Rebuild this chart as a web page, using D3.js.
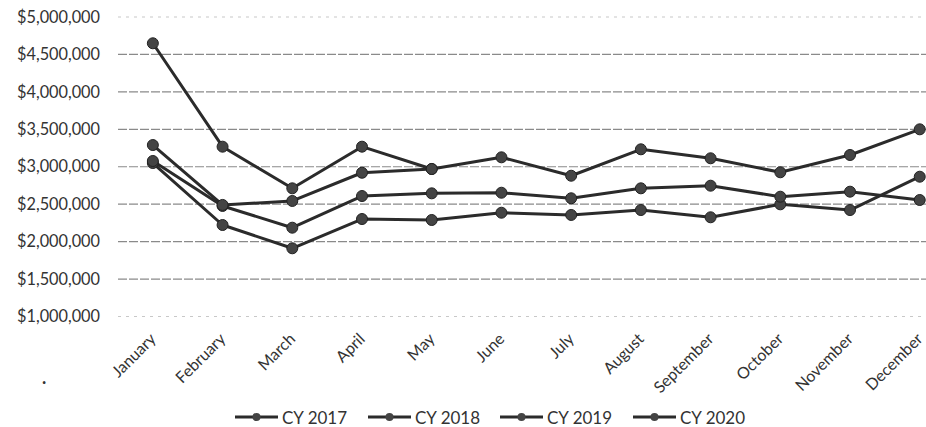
<!DOCTYPE html>
<html>
<head>
<meta charset="utf-8">
<script src="https://cdn.jsdelivr.net/npm/d3@7"></script>
<style>
  html, body { margin: 0; padding: 0; background: #fff; }
  svg { display: block; }
  text { font-family: Lato, "Open Sans", sans-serif; fill: #333; }
</style>
</head>
<body>
<div id="chart"></div>
<script>
const months = ["January","February","March","April","May","June","July","August","September","October","November","December"];
const seriesNames = ["CY 2017","CY 2018","CY 2019","CY 2020"];
const cy2017 = [3050000,2222000,1911000,2302000,2289000,2386000,2356000,2422000,2325000,2498000,2422000,2867000];
const cy2018 = [3077000,2476000,2186000,2609000,2645000,2653000,2579000,2712000,2747000,2600000,2667000,2556000];
const cy2019 = [4649000,3268000,2712000,3268000,2970000,3126000,2880000,3233000,3113000,2926000,3157000,3500000];
const cy2020 = [3290000,2490000,2543000,2920000,2970000];
const yTicks = [1000000,1500000,2000000,2500000,3000000,3500000,4000000,4500000,5000000];

const W = 926, H = 427;
const svg = d3.select("#chart").append("svg").attr("width", W).attr("height", H);

const x = d3.scaleBand().domain(months).range([118, 954.6]);
const y = d3.scaleLinear().domain([1000000, 5000000]).range([316.5, 17]);
const cx = m => x(m) + x.bandwidth() / 2;

// gridlines
svg.append("g").selectAll("line").data(yTicks).join("line")
  .attr("x1", 118).attr("x2", W)
  .attr("y1", d => y(d)).attr("y2", d => y(d))
  .attr("stroke", d => (d === 5000000 || d === 1000000) ? "#c8c8c8" : "#8a8a8a")
  .attr("stroke-width", 1.2)
  .attr("stroke-dasharray", d => (d === 5000000 || d === 1000000) ? "3,5" : "9,2");

// y axis labels
const fmt = d3.format("$,.0f");
const yAxis = d3.axisLeft(y).tickValues(yTicks).tickFormat(fmt).tickSize(0).tickPadding(0);
const yg = svg.append("g").attr("transform", "translate(100,0)").call(yAxis);
yg.select(".domain").remove();
yg.selectAll("text").attr("font-size", 16.3).attr("font-family", "Lato, sans-serif").attr("fill", "#333");

// x axis labels (rotated)
const xAxis = d3.axisBottom(x).tickSize(0).tickPadding(0);
const xg = svg.append("g").call(xAxis);
xg.select(".domain").remove();
xg.selectAll(".tick").attr("transform", null);
xg.selectAll(".tick text")
  .attr("font-size", 16).attr("font-family", "Lato, sans-serif").attr("fill", "#333")
  .attr("text-anchor", "end").attr("dy", 0).attr("y", null)
  .attr("transform", d => `translate(${cx(d) + 4},340) rotate(-45)`);

// lines
const allSeries = [cy2017, cy2018, cy2019, cy2020];
const line = d3.line().x((d, i) => cx(months[i])).y(d => y(d));
const g = svg.append("g");
allSeries.forEach(vals => {
  g.append("path").datum(vals).attr("d", line)
    .attr("fill", "none").attr("stroke", "#2b2b2b").attr("stroke-width", 3)
    .attr("stroke-linejoin", "round");
});
allSeries.forEach(vals => {
  g.append("g").selectAll("circle").data(vals).join("circle")
    .attr("cx", (d, i) => cx(months[i])).attr("cy", d => y(d)).attr("r", 5.5)
    .attr("fill", "#444").attr("stroke", "#222").attr("stroke-width", 1);
});

// legend
const legX = [235, 368, 500, 633];
const lg = svg.append("g");
seriesNames.forEach((n, i) => {
  const lx = legX[i], ly = 417;
  lg.append("line").attr("x1", lx).attr("x2", lx + 43).attr("y1", ly).attr("y2", ly)
    .attr("stroke", "#2b2b2b").attr("stroke-width", 3);
  lg.append("circle").attr("cx", lx + 21.5).attr("cy", ly).attr("r", 4).attr("fill", "#444");
  lg.append("text").attr("x", lx + 47).attr("y", ly + 6.5).attr("font-size", 17).text(n);
});

// stray mark
svg.append("text").attr("x", 42).attr("y", 384).attr("font-size", 18).attr("font-weight", "bold").text(".");
</script>
</body>
</html>
